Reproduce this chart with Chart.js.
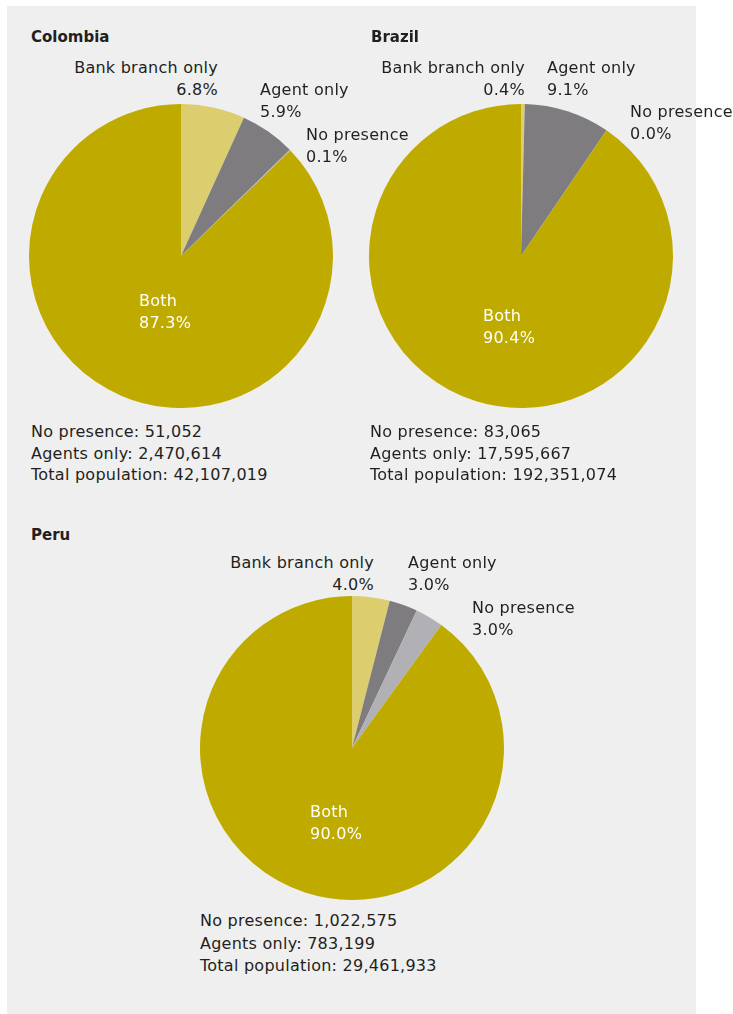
<!DOCTYPE html>
<html lang="en">

<head>
    <meta charset="UTF-8">
    <title>Banking presence by municipality</title>
    <script src="https://cdn.jsdelivr.net/npm/chart.js"></script>
    <style>
        body {
            margin: 0;
            background: #ffffff;
            font-family: "DejaVu Sans", sans-serif;
            color: #231f20;
        }

        .painel {
            position: absolute;
            left: 7px;
            top: 6px;
            width: 689px;
            height: 1008px;
            background: #efeff0;
        }

        .pizza {
            position: absolute;
            width: 304px;
            height: 304px;
        }

        .titulo {
            position: absolute;
            font-weight: bold;
            font-size: 15px;
            line-height: 20px;
        }

        .rotulo {
            position: absolute;
            font-size: 16px;
            letter-spacing: 0.25px;
            line-height: 22px;
            white-space: nowrap;
        }

        .nota {
            position: absolute;
            font-size: 16px;
            letter-spacing: 0.25px;
            line-height: 21.5px;
            white-space: nowrap;
        }
    </style>
</head>

<body>
    <div class="painel"></div>
    <div id="graficos"></div>

    <script>
        // categorias na ordem horária a partir do topo
        const categorias = ['Bank branch only', 'Agent only', 'No presence', 'Both'];
        const cores = ['#dccd6e', '#7f7c80', '#b1b0b5', '#bfab00'];

        const paises = ['Colombia', 'Brazil', 'Peru'];

        // percentuais de população por categoria
        const colombia = [6.8, 5.9, 0.1, 87.3];
        const brasil = [0.4, 9.1, 0.0, 90.4];
        const peru = [4.0, 3.0, 3.0, 90.0];

        // números absolutos: sem presença, só agentes, população total
        const colombiaTotais = [51052, 2470614, 42107019];
        const brasilTotais = [83065, 17595667, 192351074];
        const peruTotais = [1022575, 783199, 29461933];

        const nomesTotais = ['No presence', 'Agents only', 'Total population'];

        // onde fica cada bloco na página (x, y em px)
        const layout = [
            {
                titulo: [31, 27], pizza: [29, 104], notas: [31, 421],
                rotulos: [[218, 57, 'right'], [260, 79, 'left'], [306, 124, 'left'], [139, 290, 'left']]
            },
            {
                titulo: [371, 27], pizza: [369, 104], notas: [370, 421],
                rotulos: [[525, 57, 'right'], [547, 57, 'left'], [630, 101, 'left'], [483, 305, 'left']]
            },
            {
                titulo: [31, 525], pizza: [200, 596], notas: [200, 910],
                rotulos: [[374, 552, 'right'], [408, 552, 'left'], [472, 597, 'left'], [310, 801, 'left']]
            }
        ];

        const dadosPaises = [colombia, brasil, peru];
        const totaisPaises = [colombiaTotais, brasilTotais, peruTotais];

        const area = document.getElementById('graficos');

        function criaDiv(classe, x, y, html) {
            const d = document.createElement('div');
            d.className = classe;
            d.style.left = x + 'px';
            d.style.top = y + 'px';
            d.innerHTML = html;
            area.appendChild(d);
            return d;
        }

        for (let i = 0; i < paises.length; i++) {
            const lay = layout[i];
            const valores = dadosPaises[i];

            criaDiv('titulo', lay.titulo[0], lay.titulo[1], paises[i]);

            // canvas da pizza
            const caixa = criaDiv('pizza', lay.pizza[0], lay.pizza[1], '');
            const canvas = document.createElement('canvas');
            canvas.width = 304;
            canvas.height = 304;
            caixa.appendChild(canvas);

            new Chart(canvas, {
                type: 'pie',
                data: {
                    labels: categorias,
                    datasets: [{
                        data: valores,
                        backgroundColor: cores,
                        borderWidth: 0,
                        hoverOffset: 0
                    }]
                },
                options: {
                    responsive: false,
                    animation: false,
                    layout: { padding: 0 },
                    plugins: {
                        legend: { display: false },
                        tooltip: { enabled: false }
                    }
                }
            });

            // rótulos das fatias
            for (let j = 0; j < categorias.length; j++) {
                const r = lay.rotulos[j];
                const texto = categorias[j] + '<br>' + valores[j].toFixed(1) + '%';
                const d = criaDiv('rotulo', r[0], r[1], texto);
                d.style.textAlign = r[2];
                if (r[2] == 'right') {
                    d.style.left = '';
                    d.style.right = (733 - r[0]) + 'px';
                }
                if (j == 3) d.style.color = '#ffffff';
            }

            // notas embaixo
            const linhas = [];
            for (let k = 0; k < nomesTotais.length; k++) {
                linhas.push(nomesTotais[k] + ': ' + totaisPaises[i][k].toLocaleString('en-US'));
            }
            const n = criaDiv('nota', lay.notas[0], lay.notas[1], linhas.join('<br>'));
            if (i == 2) n.style.lineHeight = '22.5px';
        }
    </script>
</body>

</html>
